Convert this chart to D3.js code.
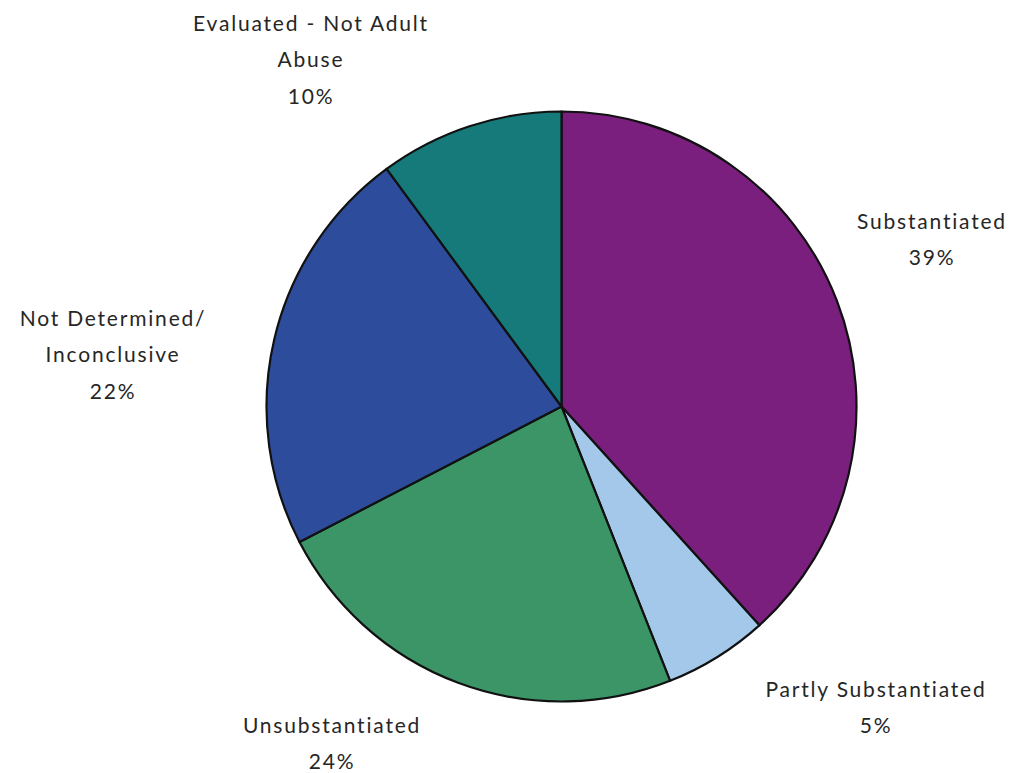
<!DOCTYPE html>
<html><head><meta charset="utf-8">
<script src="https://cdn.jsdelivr.net/npm/d3@7"></script>
<style>body{margin:0;background:#fff}svg{display:block}</style>
</head><body>
<svg id="c" width="1027" height="773"></svg>
<script>
const categories = ["Substantiated","Partly Substantiated","Unsubstantiated","Not Determined/ Inconclusive","Evaluated - Not Adult Abuse"];
const values = [38.3, 5.7, 23.4, 22.5, 10.1];
const pctLabels = ["39%","5%","24%","22%","10%"];
const labelLines = [["Substantiated","39%"],["Partly Substantiated","5%"],["Unsubstantiated","24%"],["Not Determined/","Inconclusive","22%"],["Evaluated - Not Adult","Abuse","10%"]];
const colors = ["#7a1f7e","#a3c8ea","#3b9566","#2d4d9c","#167a7a"];
const labelPos = [[932,220],[876,688],[332,724],[113,317],[311,22]];

const svg = d3.select("#c");
const cx = 561.5, cy = 406.5, r = 295;
const pie = d3.pie().sort(null).value(d=>d)(values);
const arc = d3.arc().innerRadius(0).outerRadius(r);
const g = svg.append("g").attr("transform",`translate(${cx},${cy})`);
g.selectAll("path").data(pie).join("path")
  .attr("d",arc).attr("fill",(d,i)=>colors[i])
  .attr("stroke","#111").attr("stroke-width",2.2).attr("stroke-linejoin","round");

const lh = 36.5;
labelLines.forEach((lines,i)=>{
  const t = svg.append("text").attr("text-anchor","middle")
    .attr("font-family","Lato, 'Open Sans', sans-serif").attr("font-size",21)
    .attr("letter-spacing","1.8px").attr("fill","#262626");
  lines.forEach((ln,j)=>{
    t.append("tspan").attr("x",labelPos[i][0]).attr("y",labelPos[i][1]+j*lh)
      .attr("dominant-baseline","central").text(ln);
  });
});
</script>
</body></html>
